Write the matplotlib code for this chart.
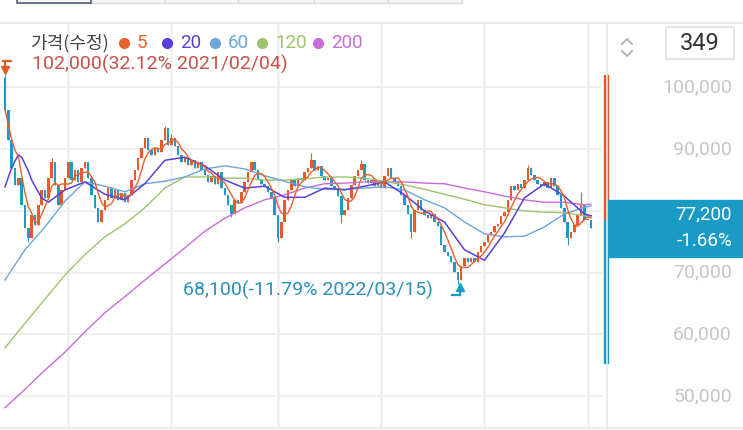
import numpy as np
import pandas as pd
import matplotlib.pyplot as plt
from matplotlib.patches import Rectangle

W, H = 743, 430

# ---- data (KRW, adjusted price) ----
first_open = 101500
close = [
    96400, 91500, 87000, 84200, 85300, 81000, 77200, 75600, 79300, 77700,
    81000, 83400, 82100, 85300, 87900, 84200, 81000, 83400, 85300, 87900,
    85000, 86600, 84700, 87000, 87900, 85300, 82600, 80500, 78200, 80100,
    81800, 83700, 82100, 83400, 81800, 82900, 81400, 82600, 85000, 86600,
    88600, 90200, 91800, 89900, 89100, 90200, 89500, 91500, 93400, 90700,
    91800, 90500, 89100, 87900, 88600, 87400, 88200, 87000, 87900, 86600,
    85800, 84700, 85700, 84400, 86300, 83700, 82600, 81000, 79500, 81800,
    81300, 83100, 84700, 86300, 87900, 86600, 85000, 84400, 84000, 83100,
    82100, 79300, 75600, 78200, 81800, 83400, 85000, 84000, 85300, 85000,
    86300, 87000, 88200, 86600, 87300, 85700, 85000, 85300, 84000, 83700,
    82400, 79300, 80100, 82100, 84200, 85700, 86600, 87600, 85000, 84500,
    85000, 84000, 84700, 83700, 85700, 87000, 85300, 84700, 84000, 82600,
    81000, 79500, 76600, 80100, 81800, 80100, 79300, 78800, 79500, 78200,
    77600, 74500, 73300, 72700, 71700, 70100, 68800, 71100, 72400, 71700,
    72400, 71700, 73300, 74300, 75000, 76100, 76600, 77600, 77900, 79200,
    79800, 81800, 84000, 83400, 84400, 83700, 85000, 87000, 85800, 85000,
    84400, 84000, 84700, 83700, 85300, 84000, 82600, 80500, 78200, 75600,
    76600, 77700, 79300, 81000, 78500, 78500, 77200,
]
# visible wick extremes
spike_hi = {0: 102000, 14: 88600, 48: 93800, 50: 92500, 92: 89400, 107: 88300,
            157: 87400, 173: 83100}
spike_lo = {7: 74900, 68: 79000, 82: 74900, 101: 78000, 122: 75600,
            136: 68100, 169: 74500}

ma_idx = [18, 24, 30, 36, 42, 48, 54, 60, 66, 72, 78, 84, 90, 96, 102, 108,
          114, 120, 126, 132, 138, 144, 150, 156, 162, 168, 174, 176]
ma20_head_idx = [0, 2, 4, 5, 7, 8, 11, 13]
ma20_head = [83900, 87000, 89100, 88700, 86500, 85000, 82100, 81400]
ma20 = [83400, 84700, 82700, 81800, 84400, 88200, 88700, 87300, 85000, 83700,
        84000, 82200, 82200, 83700, 83400, 84000, 84700, 82600, 80000, 78200,
        73700, 72000, 76400, 82100, 84400, 82400, 79500, 79200]
ma_head_idx = [0, 6, 12]
ma60_head = [68800, 73700, 77400]
ma60 = [81600, 84700, 84000, 83100, 84400, 84800, 85500, 86800, 87300, 86800,
        85700, 84800, 83900, 83500, 83500, 83700, 83900, 83400, 81800, 80500,
        78200, 76300, 75800, 75900, 77400, 79500, 80600, 80800]
ma120_head = [57800, 61800, 65700]
ma120 = [69600, 72900, 75800, 77900, 80500, 83700, 85500, 85500, 85300, 85300,
         85000, 85000, 85200, 85500, 85500, 85300, 84800, 84200, 83500, 82700,
         81900, 81000, 80500, 80000, 79800, 79700, 79200, 79200]
ma200_head = [48100, 51100, 54200]
ma200 = [57100, 60400, 63500, 66100, 68800, 71400, 74000, 76700, 78800, 80500,
         81800, 82600, 83700, 84400, 84500, 84700, 84700, 84700, 84500, 84400,
         83700, 83100, 82400, 81800, 81400, 81400, 81000, 81100]

month_idx = [19, 50, 82, 113, 144, 175]
price_ticks = [100000, 90000, 70000, 60000, 50000]
hi_label = "102,000(32.12% 2021/02/04)"
lo_label = "68,100(-11.79% 2022/03/15)"
legend_items = [("5", "#e8602c"), ("20", "#5b3fd9"), ("60", "#6aa6dc"),
                ("120", "#9cc46c"), ("200", "#c96bd8")]

UP = "#e9592a"
DOWN = "#1b9cc8"
GRID = "#efefef"

cl = np.array(close, dtype=float)
op = np.concatenate([[first_open], cl[:-1]])
idx = np.arange(len(cl))
body_hi = np.maximum(op, cl)
body_lo = np.minimum(op, cl)
wick_hi = body_hi.copy()
wick_lo = body_lo.copy()
for k, v in spike_hi.items():
    wick_hi[k] = max(wick_hi[k], v)
for k, v in spike_lo.items():
    wick_lo[k] = min(wick_lo[k], v)
cols = np.where(cl >= op, UP, DOWN)
ma5 = pd.Series(cl).rolling(5, min_periods=1).mean()

fig = plt.figure(figsize=(W / 100, H / 100), dpi=100)
fig.patch.set_facecolor("white")

y0, y1 = 44816, 110452
ax = fig.add_axes([0, 2 / H, 602 / W, 405 / H])
ax.set_xlim(-1.5, 179.3)
ax.set_ylim(y0, y1)
ax.axis("off")
for p in [50000, 60000, 70000, 80000, 90000, 100000]:
    ax.axhline(p, color=GRID, lw=1.4, zorder=0)
for m in month_idx:
    ax.axvline(m, color=GRID, lw=1.8, zorder=0)

ax.vlines(idx, wick_lo, wick_hi, colors=cols, lw=0.8, zorder=2)
ax.bar(idx, np.maximum(body_hi - body_lo, 150), bottom=body_lo, width=0.75,
       color=cols, zorder=2)

ax.plot(ma_head_idx + ma_idx, ma200_head + ma200, color="#c96bd8", lw=1.0, zorder=3)
ax.plot(ma_head_idx + ma_idx, ma120_head + ma120, color="#9cc46c", lw=1.0, zorder=3)
ax.plot(ma_head_idx + ma_idx, ma60_head + ma60, color="#6aa6dc", lw=1.0, zorder=3)
ax.plot(ma20_head_idx + ma_idx, ma20_head + ma20, color="#5b3fd9", lw=1.1, zorder=3)
ax.plot(idx, ma5, color="#e8602c", lw=1.0, zorder=4)

# right price panel
axr = fig.add_axes([607 / W, 2 / H, 136 / W, 405 / H])
axr.set_xlim(0, 1)
axr.set_ylim(y0, y1)
axr.axis("off")
for p in price_ticks:
    axr.text(0.92, p, f"{p:,}", ha="right", va="center", color="#c6c6c6",
             fontsize=14, family="Roboto")
last = cl[-1]
prev = cl[-2]
axr.add_patch(Rectangle((0, last - 4600), 1, 9200, color="#1a9bc6", zorder=3))
axr.text(0.92, last + 2250, f"{last:,.0f}", ha="right", va="center", color="white",
         fontsize=13.5, family="Roboto", zorder=4)
axr.text(0.92, last - 2050, f"{(last / prev - 1) * 100:.2f}%", ha="right",
         va="center", color="white", fontsize=13.5, family="Roboto", zorder=4)
axr.add_patch(Rectangle((-0.022, prev), 0.028, max(wick_hi) - prev, color="#e35a24",
                        clip_on=False, zorder=2))
axr.add_patch(Rectangle((-0.022, 55400), 0.028, prev - 55400, color="#1b9bc5",
                        clip_on=False, zorder=2))

# overlay in pixel coordinates for chrome and labels
ov = fig.add_axes([0, 0, 1, 1], zorder=5)
ov.set_xlim(0, W)
ov.set_ylim(H, 0)
ov.axis("off")
ov.patch.set_alpha(0)
ov.plot([0, W], [23, 23], color="#e8e8e8", lw=1.2)
ov.plot([0, W], [428, 428], color="#e8e8e8", lw=1.2)
ov.plot([607, 607], [23, 430], color="#e8e8e8", lw=1.2)
tabs = [17, 91, 165, 238, 314, 388, 462]
for a, b in zip(tabs[:-1], tabs[1:]):
    ov.add_patch(Rectangle((a, -3), b - a, 6, facecolor="#f6f6f6",
                           edgecolor="#dcdcdc", lw=1))
ov.add_patch(Rectangle((17, -3), 74, 6, facecolor="none", edgecolor="#56607a", lw=1.2))

ov.add_patch(Rectangle((666, 27), 68, 32, facecolor="white", edgecolor="#e0e0e0", lw=1.2))
ov.text(700, 44, "349", ha="center", va="center", fontsize=17, color="#333333",
        family="Roboto")
ov.plot([622, 627, 632], [44, 39, 44], color="#b0b0b0", lw=1.3)
ov.plot([622, 627, 632], [51, 56, 51], color="#b0b0b0", lw=1.3)

ov.text(30, 43, "가격(수정)", ha="left", va="center", fontsize=13, color="#444444",
        family=["Noto Sans CJK KR", "DejaVu Sans"])
dot_x = [124, 167, 215, 262, 318]
for (lab, c), dx in zip(legend_items, dot_x):
    ov.plot(dx, 43, "o", ms=7, color=c)
    ov.text(dx + 13, 43, lab, ha="left", va="center", fontsize=13.5, color=c,
            family="Roboto")

ov.text(32, 64, hi_label, ha="left", va="center", fontsize=14, color="#c9504a",
        family="Roboto")
ov.plot([3, 11], [61, 61], color="#e35a24", lw=1.6)
ov.plot([5, 5], [61, 69], color="#e35a24", lw=1.6)
ov.plot(5, 70, marker="v", ms=6, color="#e35a24")

ov.text(183, 290, lo_label, ha="left", va="center", fontsize=14, color="#2b8fb8",
        family="Roboto")
ov.plot([452, 460], [295, 295], color="#1b9bc5", lw=1.6)
ov.plot([460, 460], [295, 288], color="#1b9bc5", lw=1.6)
ov.plot(460, 287, marker="^", ms=6, color="#1b9bc5")

fig.savefig("out.png", dpi=100, facecolor="white")
